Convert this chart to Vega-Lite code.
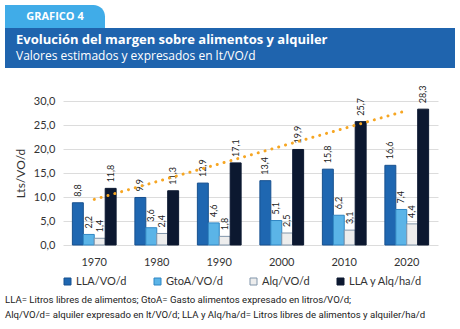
{
  "$schema": "https://vega.github.io/schema/vega-lite/v6.json",
  "background": "white",
  "padding": {"left": 5, "top": 5, "right": 5, "bottom": 0},
  "config": {
    "locale": {"number": {"decimal": ",", "thousands": ".", "grouping": [3], "currency": ["", " €"]}},
    "view": {"stroke": null}
  },
  "spacing": 17,
  "vconcat": [
    {
      "spacing": 0,
      "vconcat": [
        {
          "width": 100,
          "height": 23,
          "data": {"values": [{"tab": "GRAFICO 4"}]},
          "layer": [
            {"mark": {"type": "rect", "color": "#40ace8", "cornerRadiusTopRight": 14},
             "encoding": {
               "x": {"datum": 0, "type": "quantitative", "scale": {"domain": [0, 1]}, "axis": null},
               "x2": {"datum": 1},
               "y": {"datum": 0, "type": "quantitative", "scale": {"domain": [0, 1]}, "axis": null},
               "y2": {"datum": 1}
             }},
            {"mark": {"type": "text", "color": "white", "font": "Open Sans", "fontWeight": "bold", "fontSize": 11, "baseline": "middle", "align": "center"},
             "encoding": {"text": {"field": "tab"}}}
          ]
        },
        {
          "width": 450,
          "height": 40,
          "view": {"fill": "#1f64ae", "stroke": null},
          "data": {"values": [
            {"line": 1, "text": "Evolución del margen sobre alimentos y alquiler"},
            {"line": 2, "text": "Valores estimados y expresados en lt/VO/d"}
          ]},
          "encoding": {
            "x": {"datum": 0, "type": "quantitative", "scale": {"domain": [0, 1]}, "axis": null},
            "y": {"field": "line", "type": "ordinal", "axis": null, "scale": {"padding": 0.75}},
            "text": {"field": "text"}
          },
          "layer": [
            {"transform": [{"filter": "datum.line == 1"}], "mark": {"type": "text", "color": "white", "font": "Open Sans", "fontWeight": "bold", "fontSize": 13, "align": "left", "baseline": "middle", "dx": 11}},
            {"transform": [{"filter": "datum.line == 2"}], "mark": {"type": "text", "color": "white", "font": "Open Sans", "fontSize": 12, "align": "left", "baseline": "middle", "dx": 11}}
          ]
        }
      ]
    },
    {
      "spacing": 25,
      "vconcat": [
        {
          "width": 433,
          "height": 144,
          "encoding": {
            "x": {"field": "year", "type": "nominal", "title": null,
              "scale": {"range": [58, 433], "paddingInner": 0.3, "paddingOuter": 0.15},
              "axis": {"labelAngle": 0, "ticks": false, "domain": false, "labelFont": "Lato", "labelFontSize": 11, "labelColor": "#333", "labelPadding": 11}},
            "y": {"field": "value", "type": "quantitative",
              "scale": {"domain": [0, 30]},
              "axis": {"title": "Lts/VO/d", "titleFont": "Lato", "titleFontSize": 12, "titleFontWeight": "normal", "titleColor": "#333", "titlePadding": 6,
                "offset": -58,
                "values": [0, 5, 10, 15, 20, 25, 30], "format": ".1f", "ticks": false, "domain": false, "labelPadding": 8,
                "labelFont": "Lato", "labelFontSize": 11, "labelColor": "#333", "gridColor": "#dcdcdc"}}
          },
          "layer": [
            {
              "data": {"values": [
                {"year": "1970", "serie": "LLA/VO/d", "value": 8.8},
                {"year": "1970", "serie": "GtoA/VO/d", "value": 2.2},
                {"year": "1970", "serie": "Alq/VO/d", "value": 1.4},
                {"year": "1970", "serie": "LLA y Alq/ha/d", "value": 11.8},
                {"year": "1980", "serie": "LLA/VO/d", "value": 9.9},
                {"year": "1980", "serie": "GtoA/VO/d", "value": 3.6},
                {"year": "1980", "serie": "Alq/VO/d", "value": 2.4},
                {"year": "1980", "serie": "LLA y Alq/ha/d", "value": 11.3},
                {"year": "1990", "serie": "LLA/VO/d", "value": 12.9},
                {"year": "1990", "serie": "GtoA/VO/d", "value": 4.6},
                {"year": "1990", "serie": "Alq/VO/d", "value": 1.8},
                {"year": "1990", "serie": "LLA y Alq/ha/d", "value": 17.1},
                {"year": "2000", "serie": "LLA/VO/d", "value": 13.4},
                {"year": "2000", "serie": "GtoA/VO/d", "value": 5.1},
                {"year": "2000", "serie": "Alq/VO/d", "value": 2.5},
                {"year": "2000", "serie": "LLA y Alq/ha/d", "value": 19.9},
                {"year": "2010", "serie": "LLA/VO/d", "value": 15.8},
                {"year": "2010", "serie": "GtoA/VO/d", "value": 6.2},
                {"year": "2010", "serie": "Alq/VO/d", "value": 3.1},
                {"year": "2010", "serie": "LLA y Alq/ha/d", "value": 25.7},
                {"year": "2020", "serie": "LLA/VO/d", "value": 16.6},
                {"year": "2020", "serie": "GtoA/VO/d", "value": 7.4},
                {"year": "2020", "serie": "Alq/VO/d", "value": 4.4},
                {"year": "2020", "serie": "LLA y Alq/ha/d", "value": 28.3}
              ]},
              "encoding": {
                "xOffset": {"field": "serie", "sort": ["LLA/VO/d", "GtoA/VO/d", "Alq/VO/d", "LLA y Alq/ha/d"], "scale": {"paddingInner": 0, "paddingOuter": 0}}
              },
              "layer": [
                {
                  "mark": {"type": "bar", "strokeWidth": 1},
                  "encoding": {
                    "color": {"field": "serie", "type": "nominal", "title": null,
                      "sort": ["LLA/VO/d", "GtoA/VO/d", "Alq/VO/d", "LLA y Alq/ha/d"],
                      "scale": {"domain": ["LLA/VO/d", "GtoA/VO/d", "Alq/VO/d", "LLA y Alq/ha/d"], "range": ["#1f67b1", "#5bb4e7", "#ededed", "#0c1830"]},
                      "legend": {"orient": "none", "legendX": 57, "legendY": 271, "direction": "horizontal", "columnPadding": 25, "symbolType": "square", "symbolSize": 49, "symbolStrokeWidth": 1, "symbolStrokeColor": "#6f86a0", "labelFont": "Lato", "labelFontSize": 11, "labelColor": "#333", "labelOffset": 3}},
                    "stroke": {"field": "serie", "type": "nominal", "legend": null,
                      "scale": {"domain": ["LLA/VO/d", "GtoA/VO/d", "Alq/VO/d", "LLA y Alq/ha/d"], "range": ["#17508f", "#2f86c4", "#8095aa", "#0c1830"]}}
                  }
                },
                {
                  "mark": {"type": "text", "angle": 270, "align": "left", "baseline": "middle", "dx": 6, "font": "Lato", "fontSize": 9, "color": "#222"},
                  "encoding": {"text": {"field": "value", "type": "quantitative", "format": ".1f"}}
                }
              ]
            },
            {
              "data": {"values": [{"year": "1970", "value": 9.5}, {"year": "2020", "value": 28.0}]},
              "mark": {"type": "line", "color": "#f6a623", "strokeWidth": 3, "strokeCap": "round", "strokeDash": [0.1, 7]},
              "encoding": {}
            }
          ]
        },
        {
          "width": 450,
          "height": 30,
          "data": {"values": [
            {"line": 1, "text": "LLA= Litros libres de alimentos; GtoA= Gasto alimentos expresado en litros/VO/d;"},
            {"line": 2, "text": "Alq/VO/d= alquiler expresado en lt/VO/d; LLA y Alq/ha/d= Litros libres de alimentos y alquiler/ha/d"}
          ]},
          "mark": {"type": "text", "font": "Roboto", "fontSize": 9.6, "color": "#222", "align": "left", "baseline": "middle"},
          "encoding": {
            "x": {"datum": 0, "type": "quantitative", "scale": {"domain": [0, 1]}, "axis": null},
            "y": {"field": "line", "type": "ordinal", "axis": null, "scale": {"padding": 0.5}},
            "text": {"field": "text"}
          }
        }
      ]
    }
  ]
}
